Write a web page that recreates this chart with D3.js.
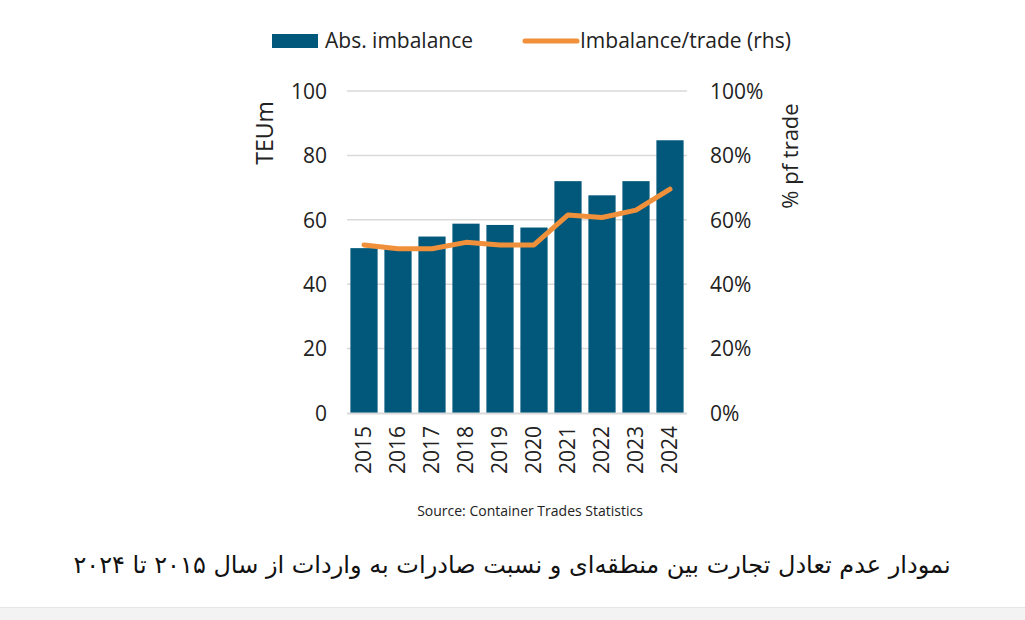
<!DOCTYPE html>
<html><head><meta charset="utf-8">
<script src="https://cdn.jsdelivr.net/npm/d3@7/dist/d3.min.js"></script>
<style>body{margin:0;background:#fff;}svg{display:block;}</style>
</head><body>
<svg id="c" width="1025" height="620"></svg>
<script>
const years = ["2015","2016","2017","2018","2019","2020","2021","2022","2023","2024"];
const absImbalance = [51.2, 51, 54.8, 58.8, 58.4, 57.6, 72, 67.6, 72, 84.7];
const imbalanceShare = [0.522, 0.51, 0.51, 0.53, 0.522, 0.522, 0.615, 0.607, 0.63, 0.695];
const leftTicks = [0, 20, 40, 60, 80, 100];
const rightTicks = [0, 0.2, 0.4, 0.6, 0.8, 1.0];
const legendLabels = ["Abs. imbalance", "Imbalance/trade (rhs)"];
const leftTitle = "TEUm";
const rightTitle = "% pf trade";
const sourceText = "Source: Container Trades Statistics";
const caption = "نمودار عدم تعادل تجارت بین منطقه‌ای  و نسبت صادرات به واردات از سال ۲۰۱۵ تا ۲۰۲۴";

const barColor = "#02587b", lineColor = "#f0903a", gridColor = "#d9d9d9";
const font = "'Open Sans', Lato, sans-serif";
const svg = d3.select("#c");
svg.append("rect").attr("x",0).attr("y",607).attr("width",1025).attr("height",13).attr("fill","#f3f3f3");
svg.append("line").attr("x1",0).attr("x2",1025).attr("y1",607.5).attr("y2",607.5).attr("stroke","#e6e6e6");

const x0 = 347, x1 = 687, yTop = 91, yBot = 413;
const x = d3.scaleBand().domain(years).range([x0, x1]).paddingInner(0.2).paddingOuter(0.1);
const yL = d3.scaleLinear().domain([0,100]).range([yBot, yTop]);
const yR = d3.scaleLinear().domain([0,1]).range([yBot, yTop]);

// gridlines
svg.append("g").selectAll("line").data(leftTicks.filter(d=>d>0)).join("line")
  .attr("x1", x0).attr("x2", x1).attr("y1", d=>yL(d)).attr("y2", d=>yL(d))
  .attr("stroke", gridColor).attr("stroke-width", 1.5);

// bars
svg.append("g").selectAll("rect").data(years).join("rect")
  .attr("x", d=>x(d)).attr("width", x.bandwidth())
  .attr("y", (d,i)=>yL(absImbalance[i])).attr("height", (d,i)=>yBot - yL(absImbalance[i]))
  .attr("fill", barColor);

// baseline
svg.append("line").attr("x1", x0).attr("x2", x1).attr("y1", yBot+0.5).attr("y2", yBot+0.5)
  .attr("stroke", gridColor).attr("stroke-width", 2);

// line
const line = d3.line().x((d,i)=>x(years[i]) + x.bandwidth()/2).y(d=>yR(d));
svg.append("path").datum(imbalanceShare).attr("d", line).attr("fill","none")
  .attr("stroke", lineColor).attr("stroke-width", 5).attr("stroke-linejoin","round").attr("stroke-linecap","round");

// left axis
const axL = d3.axisLeft(yL).tickValues(leftTicks).tickSize(0).tickPadding(0);
const gL = svg.append("g").attr("transform", `translate(327,0)`).call(axL);
gL.select(".domain").remove();
gL.selectAll("text").attr("font-family", font).attr("font-size", 21).attr("fill","#222").attr("dy","0.35em");

const axR = d3.axisRight(yR).tickValues(rightTicks).tickFormat(d3.format(".0%")).tickSize(0).tickPadding(0);
const gR = svg.append("g").attr("transform", `translate(710,0)`).call(axR);
gR.select(".domain").remove();
gR.selectAll("text").attr("font-family", font).attr("font-size", 21).attr("fill","#222").attr("dy","0.35em");

// x axis labels
const axX = d3.axisBottom(x).tickSize(0).tickPadding(0);
const gX = svg.append("g").attr("transform", `translate(0,${yBot})`).call(axX);
gX.select(".domain").remove();
gX.selectAll("text").attr("font-family", font).attr("font-size", 21).attr("fill","#222")
  .attr("transform","rotate(-90)").attr("text-anchor","end").attr("x",-13).attr("y",0).attr("dy","0.35em");

// axis titles
svg.append("text").attr("transform","translate(265,133) rotate(-90)").attr("text-anchor","middle")
  .attr("dy","0.35em").attr("font-family",font).attr("font-size",23).attr("fill","#222").text(leftTitle);
svg.append("text").attr("transform","translate(790,156) rotate(-90)").attr("text-anchor","middle")
  .attr("dy","0.35em").attr("font-family",font).attr("font-size",22).attr("fill","#222").text(rightTitle);

// legend
svg.append("rect").attr("x",272).attr("y",34).attr("width",46).attr("height",14).attr("fill",barColor);
svg.append("text").attr("x",325).attr("y",41).attr("dy","0.35em").attr("font-family",font).attr("font-size",21).attr("fill","#222").text(legendLabels[0]);
svg.append("line").attr("x1",525).attr("x2",577).attr("y1",41).attr("y2",41).attr("stroke",lineColor).attr("stroke-width",5).attr("stroke-linecap","round");
svg.append("text").attr("x",580).attr("y",41).attr("dy","0.35em").attr("font-family",font).attr("font-size",21).attr("fill","#222").text(legendLabels[1]);

// source
svg.append("text").attr("x",530).attr("y",511).attr("text-anchor","middle").attr("dy","0.35em")
  .attr("font-family","'Liberation Sans Narrow', 'Open Sans', sans-serif").attr("font-size",14).attr("fill","#222").text(sourceText);

// caption
svg.append("text").attr("x",512).attr("y",565).attr("text-anchor","middle").attr("dy","0.35em").attr("direction","rtl")
  .attr("font-family","'DejaVu Sans', 'Noto Sans', sans-serif").attr("font-size",24).attr("fill","#111").text(caption);
</script>
</body></html>
